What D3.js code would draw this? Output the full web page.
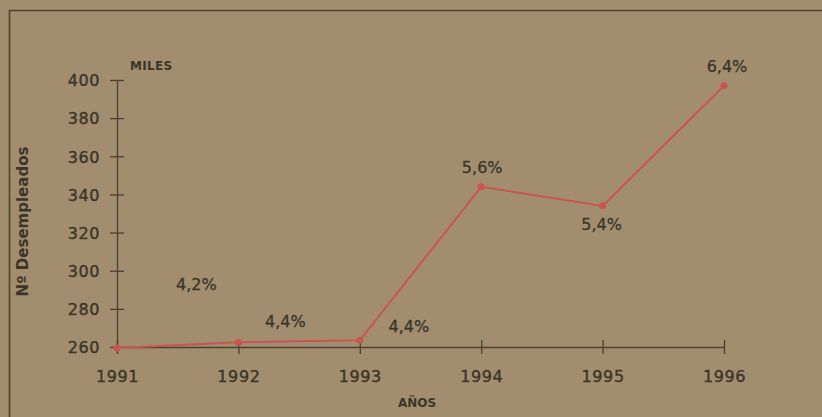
<!DOCTYPE html>
<html>
<head>
<meta charset="utf-8">
<script src="https://cdn.jsdelivr.net/npm/d3@7"></script>
<style>
  html, body { margin: 0; padding: 0; background: #a28e6f; }
  svg { display: block; }
  text { font-family: 'DejaVu Sans', sans-serif; fill: #3a3628; }
</style>
</head>
<body>
<svg id="chart" width="822" height="417"></svg>
<script>
// datos
const years = [1991, 1992, 1993, 1994, 1995, 1996];
const desempleados = [259.5, 262.5, 263.5, 344, 334, 397];
const tasas = ['', '4,2%', '4,4%', '5,6%', '5,4%', '6,4%'];
const yTicks = [260, 280, 300, 320, 340, 360, 380, 400];

const width = 822;
const height = 417;
const margin = { top: 80, right: 98, bottom: 70, left: 117 };

const svg = d3.select('#chart');

// fondo y marco
svg.append('rect')
  .attr('width', width).attr('height', height)
  .attr('fill', '#a28e6f');

svg.append('path')
  .attr('d', `M9.5,${height} V10.5 H${width}`)
  .attr('fill', 'none')
  .attr('stroke', '#4d4330')
  .attr('stroke-width', 1.6);

const x = d3.scaleLinear()
  .domain([1991, 1996])
  .range([margin.left, width - margin.right]);

const y = d3.scaleLinear()
  .domain([260, 400])
  .range([height - margin.bottom, margin.top]);

// eje x
const xAxis = svg.append('g')
  .attr('transform', `translate(0,${y(260)})`)
  .call(d3.axisBottom(x).tickValues(years).tickFormat(d3.format('d')).tickSize(7).tickSizeOuter(0).tickPadding(14));

xAxis.selectAll('.tick line').attr('y1', -7);

// eje y
const yAxis = svg.append('g')
  .attr('transform', `translate(${x(1991)},0)`)
  .call(d3.axisLeft(y).tickValues(yTicks).tickSize(7).tickSizeOuter(0).tickPadding(10));

yAxis.selectAll('.tick line').attr('x1', 7);

svg.selectAll('.domain, .tick line')
  .attr('stroke', '#4a4130')
  .attr('stroke-width', 1.3);

svg.selectAll('.tick text')
  .attr('font-size', 16)
  .attr('fill', '#3a3628')
  .attr('stroke', '#3a3628')
  .attr('stroke-width', 0.4)
  .style('letter-spacing', '0.6px');

yAxis.selectAll('.tick text').attr('dy', '0.36em');
xAxis.selectAll('.tick text').attr('dy', '0.9em');

// linea de desempleados
const data = years.map((d, i) => ({ year: d, value: desempleados[i], label: tasas[i] }));

const line = d3.line()
  .x((d) => x(d.year))
  .y((d) => y(d.value));

svg.append('path')
  .datum(data)
  .attr('d', line)
  .attr('fill', 'none')
  .attr('stroke', '#c9564c')
  .attr('stroke-width', 2);

svg.selectAll('.punto')
  .data(data)
  .join('circle')
  .attr('class', 'punto')
  .attr('cx', (d) => x(d.year))
  .attr('cy', (d) => y(d.value))
  .attr('r', 3.5)
  .attr('fill', '#c9564c');

// etiquetas de porcentaje (desplazamiento respecto a cada punto)
const offs = [null, { dx: -42, dy: -52 }, { dx: 49, dy: -8 }, { dx: 1, dy: -14 }, { dx: -1, dy: 24 }, { dx: 3, dy: -14 }];

svg.selectAll('.tasa')
  .data(data.slice(1))
  .join('text')
  .attr('class', 'tasa')
  .attr('x', (d, i) => x(d.year) + offs[i + 1].dx)
  .attr('y', (d, i) => y(d.value) + offs[i + 1].dy)
  .attr('text-anchor', 'middle')
  .attr('font-size', 16)
  .attr('stroke', '#3a3628')
  .attr('stroke-width', 0.3)
  .text((d) => d.label);

// segundo 4,4% sobre el tramo 1992-1993
svg.append('text')
  .attr('x', x(1992) + 47)
  .attr('y', y(262.5) - 15)
  .attr('text-anchor', 'middle')
  .attr('font-size', 16)
  .attr('stroke', '#3a3628')
  .attr('stroke-width', 0.3)
  .text(tasas[2]);

// titulos
svg.append('text')
  .attr('x', 130).attr('y', 70)
  .attr('font-size', 12)
  .attr('font-weight', 'bold')
  .style('letter-spacing', '0.3px')
  .text('MILES');

svg.append('text')
  .attr('transform', `translate(28,${(y(260) + y(400)) / 2 + 8}) rotate(-90)`)
  .attr('text-anchor', 'middle')
  .attr('font-size', 15)
  .attr('font-weight', 'bold')
  .text('Nº Desempleados');

svg.append('text')
  .attr('x', 417).attr('y', 407)
  .attr('text-anchor', 'middle')
  .attr('font-size', 12)
  .attr('font-weight', 'bold')
  .text('AÑOS');
</script>
</body>
</html>
